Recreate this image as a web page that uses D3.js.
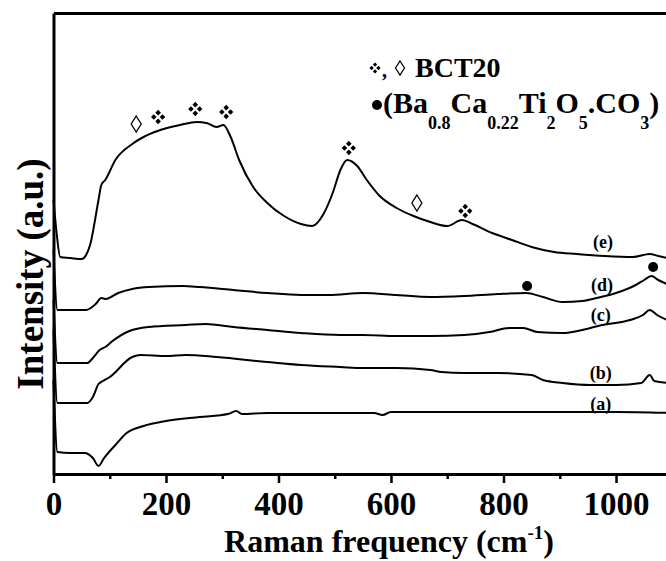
<!DOCTYPE html>
<meta charset="utf-8">
<script src="https://d3js.org/d3.v7.min.js"></script>
<style>
  body { margin: 0; background: #fff; }
  svg { display: block; overflow: hidden; }
  text { font-family: "Liberation Serif", "Times New Roman", serif; font-weight: bold; fill: #000; }
</style>
<div id="chart"></div>
<script>

// Raman shift (cm-1) and intensity (a.u.), one array per spectrum
var wnA = [0, 7, 30, 55, 70, 80, 90, 110, 130, 160, 200, 260, 310, 325, 335, 380, 450, 570, 585, 600, 700, 800, 900, 1000, 1100];
var intA = [94, 22, 21, 21, 16, 8, 16, 29, 41, 48, 53, 57, 60, 63, 60, 61, 61, 61, 59, 62, 62, 62, 62, 62, 61];

var wnB = [0, 7, 30, 60, 70, 80, 88, 100, 140, 155, 200, 235, 290, 380, 440, 510, 550, 610, 670, 690, 730, 790, 850, 870, 905, 955, 1000, 1045, 1060, 1068, 1095];
var intB = [144, 71, 71, 71, 77, 90, 93, 97, 117, 119, 118, 119, 117, 112, 109, 107, 106, 106, 104, 102, 101, 101, 99, 94, 91, 89, 89, 91, 99, 93, 91];

var wnC = [0, 7, 30, 60, 70, 82, 92, 105, 135, 170, 235, 270, 320, 380, 440, 510, 550, 610, 670, 730, 775, 810, 835, 860, 905, 940, 975, 1025, 1048, 1060, 1073, 1095];
var intC = [174, 111, 111, 111, 116, 124, 127, 133, 143, 147, 149, 150, 147, 144, 141, 139, 139, 138, 138, 139, 142, 146, 146, 142, 141, 144, 149, 154, 159, 164, 159, 153];

var wnD = [0, 7, 30, 58, 75, 85, 93, 115, 140, 170, 230, 260, 320, 380, 440, 490, 550, 610, 670, 730, 790, 840, 870, 905, 940, 965, 1000, 1035, 1050, 1063, 1075, 1095];
var intD = [224, 164, 164, 164, 170, 176, 175, 181, 185, 187, 188, 187, 184, 181, 179, 179, 181, 179, 177, 178, 180, 181, 177, 172, 173, 176, 181, 189, 194, 198, 194, 189];

var wnE = [0, 5, 12, 30, 50, 58, 65, 80, 85, 92, 110, 140, 160, 185, 225, 255, 272, 290, 302, 315, 330, 355, 380, 410, 440, 460, 480, 497, 510, 522, 540, 557, 580, 610, 640, 670, 700, 726, 745, 780, 815, 850, 890, 930, 980, 1030, 1060, 1075, 1100];
var intE = [274, 244, 217, 216, 215, 219, 229, 274, 289, 294, 314, 330, 337, 343, 349, 352, 351, 347, 349, 337, 314, 287, 271, 258, 250, 248, 260, 282, 304, 314, 308, 294, 278, 266, 258, 252, 248, 254, 250, 241, 234, 227, 222, 220, 218, 217, 220, 218, 215];

var curveLabels = ["(a)", "(b)", "(c)", "(d)", "(e)"];
var labelWn = [973, 973, 973, 975, 977];
var labelInt = [70, 101, 159, 189, 232];

// peak markers: BCT20 (clover / open diamond) and carbonate phase (dot)
var markType = ["open", "clover", "clover", "clover", "clover", "open", "clover", "dot", "dot"];
var markWn = [147, 186, 252, 307, 525, 646, 732, 842, 1066];
var markInt = [350, 357, 365, 362, 326, 271, 263, 188, 207];

var xTicks = [0, 200, 400, 600, 800, 1000];
var xMinor = [100, 300, 500, 700, 900, 1100];

var W = 666, H = 561;
var svg = d3.select("#chart").append("svg")
    .attr("width", W)
    .attr("height", H);

var x = d3.scaleLinear().domain([0, 1100]).range([53.5, 672.25]);
var y = d3.scaleLinear().domain([0, 461]).range([474, 13]);

// axes
var gx = svg.append("g").attr("transform", "translate(0,474)")
  .call(d3.axisBottom(x).tickValues(xTicks).tickSize(9).tickSizeOuter(0).tickFormat(d3.format("d")));
gx.select(".domain").attr("stroke-width", 3);
gx.selectAll(".tick line").attr("stroke-width", 2.5);
gx.selectAll(".tick text").attr("y", 18).attr("font-size", 33)
  .style("font-family", "'Liberation Serif', serif").style("font-weight", "bold");

var gm = svg.append("g").attr("transform", "translate(0,474)")
  .call(d3.axisBottom(x).tickValues(xMinor).tickSize(5).tickSizeOuter(0).tickFormat(""));
gm.select(".domain").remove();
gm.selectAll(".tick line").attr("stroke-width", 2.5);

var gt = svg.append("g").attr("transform", "translate(0,13)")
  .call(d3.axisTop(x).tickValues([]).tickSizeOuter(0));
gt.select(".domain").attr("stroke-width", 3);

var gy = svg.append("g").attr("transform", "translate(53.5,0)")
  .call(d3.axisLeft(y).tickValues([]).tickSizeOuter(0));
gy.select(".domain").attr("stroke-width", 3);

// spectra
var line = d3.line()
  .x(function(d) { return x(d[0]); })
  .y(function(d) { return y(d[1]); })
  .curve(d3.curveMonotoneX);

var series = [[wnA, intA], [wnB, intB], [wnC, intC], [wnD, intD], [wnE, intE]];
series.forEach(function(s) {
  svg.append("path")
    .datum(d3.zip(s[0], s[1]))
    .attr("fill", "none")
    .attr("stroke", "#000")
    .attr("stroke-width", 2)
    .attr("stroke-linejoin", "round")
    .attr("d", line);
});

curveLabels.forEach(function(t, i) {
  svg.append("text")
    .attr("x", x(labelWn[i]))
    .attr("y", y(labelInt[i]))
    .attr("dy", "0.35em")
    .attr("text-anchor", "middle")
    .attr("font-size", 18)
    .text(t);
});

// marker shapes
function diamond(w, h) {
  return "M0," + (-h) + "L" + w + ",0L0," + h + "L" + (-w) + ",0Z";
}
function clover(g, s) {
  [[0, -1], [1, 0], [0, 1], [-1, 0]].forEach(function(o) {
    g.append("path")
      .attr("transform", "translate(" + o[0] * s * 1.55 + "," + o[1] * s * 1.55 + ")")
      .attr("d", diamond(s, s))
      .attr("fill", "#000");
  });
}
function openDiamond(g, w, h) {
  g.append("path").attr("d", diamond(w, h))
    .attr("fill", "none").attr("stroke", "#000").attr("stroke-width", 1.3);
}

markType.forEach(function(t, i) {
  var g = svg.append("g").attr("transform", "translate(" + x(markWn[i]) + "," + y(markInt[i]) + ")");
  if (t === "clover") clover(g, 2.8);
  else if (t === "open") openDiamond(g, 5, 8);
  else g.append("circle").attr("r", 5).attr("fill", "#000");
});

// legend
var lg1 = svg.append("g").attr("transform", "translate(375,68)");
clover(lg1, 2.2);
svg.append("text").attr("x", 382).attr("y", 77).attr("font-size", 20).text(",");
openDiamond(svg.append("g").attr("transform", "translate(400,68)"), 4.5, 7);
svg.append("text").attr("x", 415).attr("y", 77).attr("font-size", 28).text("BCT20");

svg.append("circle").attr("cx", 377).attr("cy", 105).attr("r", 5).attr("fill", "#000");
var formula = [["(Ba", 0], ["0.8", 1], ["Ca", 0], ["0.22", 1], ["Ti", 0], ["2", 1], ["O", 0], ["5", 1], [".CO", 0], ["3", 1], [")", 0]];
var ft = svg.append("text").attr("x", 383).attr("y", 113).attr("font-size", 30);
var prev = 0;
formula.forEach(function(f) {
  ft.append("tspan")
    .attr("dy", (f[1] - prev) * 16)
    .attr("font-size", f[1] ? 18 : 30)
    .text(f[0]);
  prev = f[1];
});

// axis titles
var xt = svg.append("text")
  .attr("x", 389).attr("y", 552)
  .attr("text-anchor", "middle")
  .attr("font-size", 32);
xt.append("tspan").text("Raman frequency (cm");
xt.append("tspan").attr("dy", -13).attr("font-size", 19).text("-1");
xt.append("tspan").attr("dy", 13).text(")");

svg.append("text")
  .attr("transform", "translate(43,274) rotate(-90)")
  .attr("text-anchor", "middle")
  .attr("font-size", 37)
  .text("Intensity (a.u.)");

</script>
